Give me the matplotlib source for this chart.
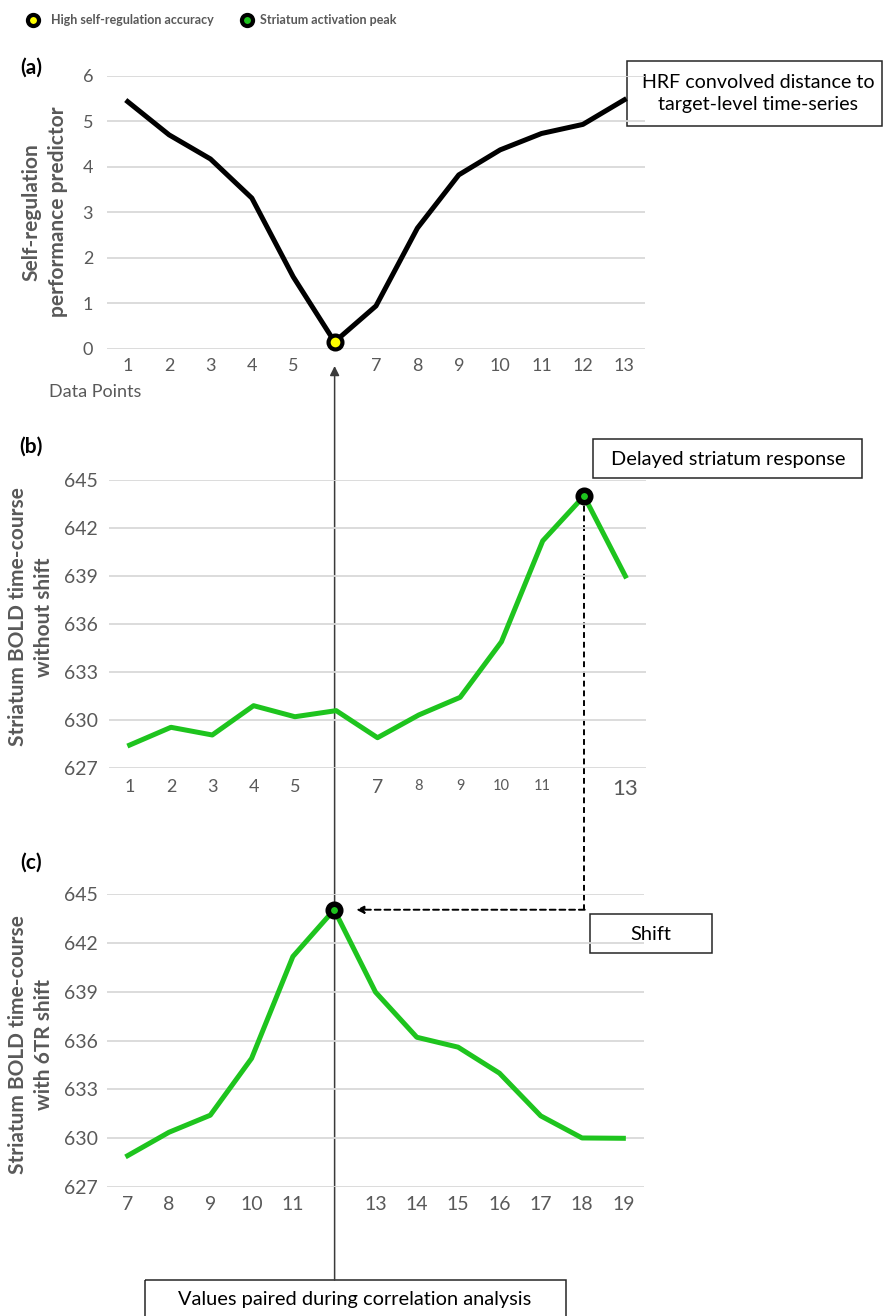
import numpy as np
import matplotlib
matplotlib.use("Agg")
import matplotlib.pyplot as plt
from matplotlib.patches import Rectangle

plt.rcParams['font.family'] = ['Lato', 'DejaVu Sans']

W, H = 883, 1316
GRAY = '#595959'
GREEN = '#1ec41e'

# panel (a): HRF convolved distance to target level
points_a = list(range(1, 14))
predictor = [5.43, 4.70, 4.17, 3.31, 1.58, 0.15, 0.94, 2.65, 3.82, 4.37, 4.73, 4.93, 5.47]
labels_a = ['1', '2', '3', '4', '5', '', '7', '8', '9', '10', '11', '12', '13']

# panel (b): striatum BOLD without shift
points_b = list(range(1, 14))
bold_raw = [628.45, 629.56, 629.08, 630.91, 630.22, 630.60, 628.91, 630.33, 631.43,
            634.90, 641.20, 644.00, 639.00]
labels_b = ['1', '2', '3', '4', '5', '', '7', '8', '9', '10', '11', '', '13']

# panel (c): same time-course shifted by 6 TR
points_c = list(range(7, 20))
bold_shift = [628.91, 630.35, 631.40, 634.90, 641.17, 644.05, 638.98, 636.20, 635.59,
              633.99, 631.36, 630.00, 629.98]
labels_c = ['7', '8', '9', '10', '11', '', '13', '14', '15', '16', '17', '18', '19']

yticks_a = [0, 1, 2, 3, 4, 5, 6]
yticks_bc = [627, 630, 633, 636, 639, 642, 645]

fig = plt.figure(figsize=(W / 100, H / 100), dpi=100)


def px_axes(left, top, right, bottom):
    return fig.add_axes([left / W, 1 - bottom / H, (right - left) / W, (bottom - top) / H])


def style(ax, x, labels, yticks, xpad, ypad, xsizes, ysize):
    ax.set_facecolor('none')
    for s in ax.spines.values():
        s.set_visible(False)
    ax.set_xlim(x[0] - 0.5, x[-1] + 0.5)
    ax.set_ylim(yticks[0], yticks[-1])
    ax.set_yticks(yticks)
    ax.set_xticks(x)
    ax.set_xticklabels(labels)
    for lab, fs in zip(ax.get_xticklabels(), xsizes):
        lab.set_fontsize(fs)
    ax.set_axisbelow(True)
    ax.yaxis.grid(True, color='#d9d9d9', lw=1.3)
    ax.tick_params(length=0, labelcolor=GRAY)
    ax.tick_params(axis='x', pad=xpad)
    ax.tick_params(axis='y', pad=ypad, labelsize=ysize)


ax_a = px_axes(107, 75.7, 645, 348.7)
ax_b = px_axes(109, 480, 646, 768.3)
ax_c = px_axes(107, 894.3, 644, 1186.7)

style(ax_a, points_a, labels_a, yticks_a, 7, 10, [13] * 13, 13)
style(ax_b, points_b, labels_b, yticks_bc, 7.5, 8, [13] * 5 + [13, 14] + [10.5] * 4 + [13, 16], 14)
style(ax_c, points_c, labels_c, yticks_bc, 7, 6.5, [14] * 13, 14)

ax_a.plot(points_a, predictor, color='black', lw=3.6, zorder=3)
ax_b.plot(points_b, bold_raw, color=GREEN, lw=3.6, zorder=3)
ax_c.plot(points_c, bold_shift, color=GREEN, lw=3.6, zorder=3)

i_min = int(np.argmin(predictor))
i_pk_b = int(np.argmax(bold_raw))
i_pk_c = int(np.argmax(bold_shift))
ax_a.plot(points_a[i_min], predictor[i_min], 'o', ms=10, mfc='#ffff00', mec='black', mew=3, zorder=4, clip_on=False)
ax_b.plot(points_b[i_pk_b], bold_raw[i_pk_b], 'o', ms=9, mfc=GREEN, mec='black', mew=4, zorder=4, clip_on=False)
ax_c.plot(points_c[i_pk_c], bold_shift[i_pk_c], 'o', ms=9, mfc=GREEN, mec='black', mew=4, zorder=4, clip_on=False)

# overlay in pixel coords (y from top) for connectors, boxes and labels
ov = fig.add_axes([0, 0, 1, 1], zorder=-1)
ov.set_xlim(0, W)
ov.set_ylim(H, 0)
ov.axis('off')
for ax in (ax_a, ax_b, ax_c):
    ax.set_zorder(1)


def to_px(ax, x, y):
    dx, dy = ax.transData.transform((x, y))
    return dx, H - dy


# vertical link from best accuracy down to the "values paired" box
vx, _ = to_px(ax_a, points_a[i_min], predictor[i_min])
ov.annotate('', xy=(vx, 366), xytext=(vx, 1280),
            arrowprops=dict(arrowstyle='-|>', color='#3a3a3a', lw=1.1, mutation_scale=14,
                            shrinkA=0, shrinkB=0))

# dashed shift arrow from (b) peak to (c) peak
bx, by = to_px(ax_b, points_b[i_pk_b], bold_raw[i_pk_b])
cx, cy = to_px(ax_c, points_c[i_pk_c], bold_shift[i_pk_c])
ov.plot([bx, bx], [by, cy], color='black', lw=1.4, ls=(0, (3, 2)))
ov.annotate('', xy=(cx + 22, cy), xytext=(bx + 0.7, cy),
            arrowprops=dict(arrowstyle='-|>', color='black', lw=1.4, ls=(0, (3, 2)),
                            mutation_scale=11, shrinkA=0, shrinkB=0))


def box(x0, y0, x1, y1, text, tx, ty, fs=14.3):
    ov.add_patch(Rectangle((x0, y0), x1 - x0, y1 - y0, fill=False, ec='#262626', lw=1.1, clip_on=False))
    ov.text(tx, ty, text, ha='center', va='center', fontsize=fs, color='black', linespacing=1.3)


box(627, 61, 882, 126, 'HRF convolved distance to\ntarget-level time-series', 758, 93.5, fs=14.1)
box(593, 439, 862, 478, 'Delayed striatum response', 728, 459, fs=14.4)
box(590, 914, 712, 953, 'Shift', 651, 934, fs=14.4)
box(145, 1280, 566, 1340, 'Values paired during correlation analysis', 355, 1300, fs=14.4)

# panel letters
for lab, y in [('(a)', 68), ('(b)', 447), ('(c)', 863)]:
    ov.text(31, y, lab, ha='center', va='center', fontsize=15, fontweight='bold', color='black')

# y axis titles
ov.text(45, 212, 'Self-regulation\nperformance predictor', rotation=90, ha='center', va='center',
        fontsize=15, fontweight='bold', color=GRAY, linespacing=1.4)
ov.text(31, 617, 'Striatum BOLD time-course\nwithout shift', rotation=90, ha='center', va='center',
        fontsize=15, fontweight='bold', color=GRAY, linespacing=1.4)
ov.text(31, 1045, 'Striatum BOLD time-course\nwith 6TR shift', rotation=90, ha='center', va='center',
        fontsize=15, fontweight='bold', color=GRAY, linespacing=1.4)

ov.text(49, 392, 'Data Points', ha='left', va='center', fontsize=13, color=GRAY)

# legend along the top
ov.plot([33], [20], 'o', ms=8, mfc='#ffff00', mec='black', mew=3)
ov.text(51, 20, 'High self-regulation accuracy', ha='left', va='center', fontsize=9,
        fontweight='bold', color=GRAY)
ov.plot([247], [20], 'o', ms=8, mfc=GREEN, mec='black', mew=3)
ov.text(260, 20, 'Striatum activation peak', ha='left', va='center', fontsize=9,
        fontweight='bold', color=GRAY)

fig.savefig('out.png', dpi=100)
